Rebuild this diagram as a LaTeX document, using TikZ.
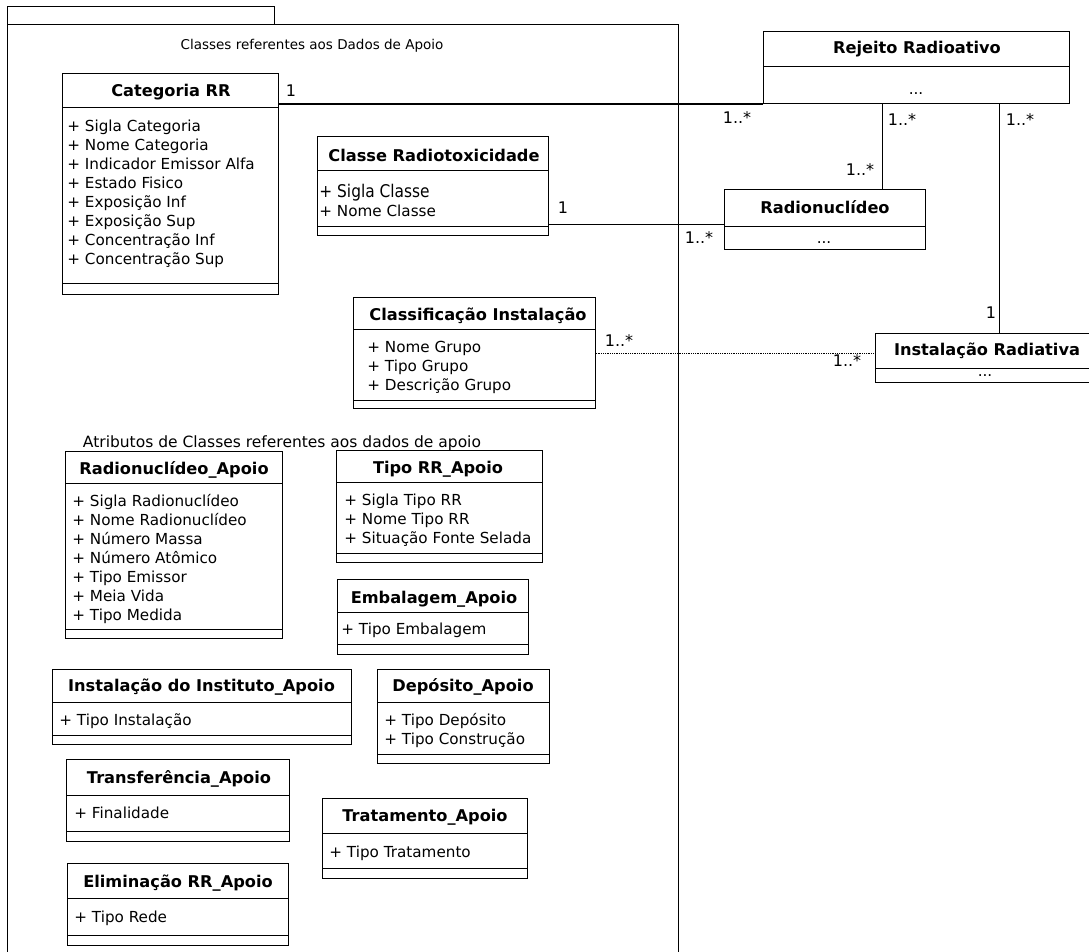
\documentclass[tikz,border=0pt]{standalone}
\usepackage{fontspec}
\setmainfont{DejaVu Sans}
\newfontfamily\condfont[FakeStretch=0.88]{DejaVu Sans}
\newcommand\attrfont{\fontsize{15.2}{19}\selectfont}
\newcommand\titlefont{\fontsize{16.2}{18}\selectfont\bfseries}
\newcommand\headfont{\fontsize{13.5}{16}\selectfont}
\newcommand\multfont{\fontsize{16}{18}\selectfont}

\begin{document}
\begin{tikzpicture}[x=1pt,y=-1pt,line width=.8pt]
\tikzstyle{cls}=[draw, inner sep=0pt, anchor=north west]
\tikzstyle{ctitle}=[font=\titlefont, inner sep=0pt, anchor=base]
\tikzstyle{attrs}=[font=\attrfont, align=left, anchor=north west, inner sep=0pt]
\tikzstyle{dots}=[font=\attrfont, inner sep=0pt]
\tikzstyle{mult}=[font=\multfont, inner sep=0pt]
\tikzstyle{assoc}=[line width=1.5pt]
\tikzstyle{assocdot}=[line width=.8pt, densely dotted]
\tikzstyle{frame}=[line width=.6pt]
\useasboundingbox (0,0) rectangle (1089,952);

% package
\draw[frame] (7,24) -- (7,6) -- (274,6) -- (274,24);
\draw[frame] (7,952) -- (7,24) -- (678,24) -- (678,952);
\node[font=\headfont, anchor=base] (head1) at (312,50) {Classes referentes aos Dados de Apoio};
\node[font=\fontsize{15.5}{18}\selectfont, anchor=base] (head2) at (282,447) {Atributos de Classes referentes aos dados de apoio};

% Categoria RR
\node[cls, minimum width=216, minimum height=221] (catrr) at (62,73) {};
\draw (catrr.north west) ++(0,34) -- ++(216,0);
\draw (catrr.south west) ++(0,-11) -- ++(216,0);
\node[ctitle] (catrr-t) at (171,97) {Categoria RR};
\node[attrs] (catrr-a) at (67,120) {+ Sigla Categoria\\+ Nome Categoria\\+ Indicador Emissor Alfa\\+ Estado Fisico\\+ Exposição Inf\\+ Exposição Sup\\+ Concentração Inf\\+ Concentração Sup};

% Classe Radiotoxicidade
\node[cls, minimum width=231, minimum height=99] (clrad) at (317,136) {};
\draw (clrad.north west) ++(0,34) -- ++(231,0);
\draw (clrad.south west) ++(0,-9) -- ++(231,0);
\node[ctitle] (clrad-t) at (434,161.5) {Classe Radiotoxicidade};
\node[attrs] (clrad-a) at (319,184) {{\condfont\fontsize{17.5}{19}\selectfont + Sigla Classe}\\+ Nome Classe};

% Classificacao Instalacao
\node[cls, minimum width=242, minimum height=111] (clinst) at (353,297) {};
\draw (clinst.north west) ++(0,32) -- ++(242,0);
\draw (clinst.south west) ++(0,-8) -- ++(242,0);
\node[ctitle] (clinst-t) at (478,320.5) {Classificação Instalação};
\node[attrs] (clinst-a) at (367,341) {+ Nome Grupo\\+ Tipo Grupo\\+ Descrição Grupo};

% Rejeito Radioativo
\node[cls, minimum width=306, minimum height=72] (rejeito) at (763,31) {};
\draw (rejeito.north west) ++(0,35) -- ++(306,0);
\node[ctitle] (rejeito-t) at (917,54) {Rejeito Radioativo};
\node[dots] (rejeito-d) at (916,94) {...};

% Radionuclideo
\node[cls, minimum width=201, minimum height=60] (radnuc) at (724,189) {};
\draw (radnuc.north west) ++(0,37) -- ++(201,0);
\node[ctitle] (radnuc-t) at (825,214) {Radionuclídeo};
\node[dots] (radnuc-d) at (824,243) {...};

% Instalacao Radiativa
\node[cls, minimum width=217, minimum height=49] (instrad) at (875,333) {};
\draw (instrad.north west) ++(0,35) -- ++(217,0);
\node[ctitle] (instrad-t) at (987,355) {Instalação Radiativa};
\node[dots] (instrad-d) at (985,376) {...};

% associations
\draw[assoc] (rejeito.south west) -- (rejeito.south west -| catrr.east);
\draw[assoc] ([yshift=-5pt]radnuc.west) -- ([yshift=-5pt]radnuc.west -| clrad.east);
\draw[assoc] ([xshift=57.5pt]radnuc.north) -- ([xshift=57.5pt]radnuc.north |- rejeito.south);
\draw[assoc] ([xshift=83pt]rejeito.south) -- ([xshift=83pt]rejeito.south |- instrad.north);
\draw[assocdot] (clinst.east) -- (clinst.east -| instrad.west);
\node[mult] (m1) at (291,91) {1};
\node[mult] (m2) at (737,118) {1..*};
\node[mult] (m3) at (563,208) {1};
\node[mult] (m4) at (699,238) {1..*};
\node[mult] (m5) at (902,120) {1..*};
\node[mult] (m6) at (860,170) {1..*};
\node[mult] (m7) at (1020,120) {1..*};
\node[mult] (m8) at (991,313) {1};
\node[mult] (m9) at (619,341) {1..*};
\node[mult] (m10) at (847,361) {1..*};

% Radionuclideo_Apoio
\node[cls, minimum width=217, minimum height=187] (radapoio) at (65,451) {};
\draw (radapoio.north west) ++(0,32) -- ++(217,0);
\draw (radapoio.south west) ++(0,-9) -- ++(217,0);
\node[ctitle] (radapoio-t) at (174,474) {Radionuclídeo\_Apoio};
\node[attrs] (radapoio-a) at (72,494) {+ Sigla Radionuclídeo\\+ Nome Radionuclídeo\\+ Número Massa\\+ Número Atômico\\+ Tipo Emissor\\+ Meia Vida\\+ Tipo Medida};

% Tipo RR_Apoio
\node[cls, minimum width=206, minimum height=112] (tiporr) at (336,450) {};
\draw (tiporr.north west) ++(0,32) -- ++(206,0);
\draw (tiporr.south west) ++(0,-9) -- ++(206,0);
\node[ctitle] (tiporr-t) at (438,473.5) {Tipo RR\_Apoio};
\node[attrs] (tiporr-a) at (344,494) {+ Sigla Tipo RR\\+ Nome Tipo RR\\+ Situação Fonte Selada};

% Embalagem_Apoio
\node[cls, minimum width=191, minimum height=75] (embal) at (337,579) {};
\draw (embal.north west) ++(0,33) -- ++(191,0);
\draw (embal.south west) ++(0,-10) -- ++(191,0);
\node[ctitle] (embal-t) at (434,603) {Embalagem\_Apoio};
\node[attrs] (embal-a) at (341,623) {+ Tipo Embalagem};

% Instalacao do Instituto_Apoio
\node[cls, minimum width=299, minimum height=75] (instinst) at (52,669) {};
\draw (instinst.north west) ++(0,33) -- ++(299,0);
\draw (instinst.south west) ++(0,-9) -- ++(299,0);
\node[ctitle] (instinst-t) at (201.5,691.5) {Instalação do Instituto\_Apoio};
\node[attrs] (instinst-a) at (59,713) {+ Tipo Instalação};

% Deposito_Apoio
\node[cls, minimum width=172, minimum height=94] (deposito) at (377,669) {};
\draw (deposito.north west) ++(0,33) -- ++(172,0);
\draw (deposito.south west) ++(0,-9) -- ++(172,0);
\node[ctitle] (deposito-t) at (463,691.5) {Depósito\_Apoio};
\node[attrs] (deposito-a) at (384,713) {+ Tipo Depósito\\+ Tipo Construção};

% Transferencia_Apoio
\node[cls, minimum width=223, minimum height=82] (transf) at (66,759) {};
\draw (transf.north west) ++(0,36) -- ++(223,0);
\draw (transf.south west) ++(0,-10) -- ++(223,0);
\node[ctitle] (transf-t) at (179,783) {Transferência\_Apoio};
\node[attrs] (transf-a) at (74,807) {+ Finalidade};

% Tratamento_Apoio
\node[cls, minimum width=205, minimum height=80] (tratam) at (322,798) {};
\draw (tratam.north west) ++(0,35) -- ++(205,0);
\draw (tratam.south west) ++(0,-10) -- ++(205,0);
\node[ctitle] (tratam-t) at (425,821.5) {Tratamento\_Apoio};
\node[attrs] (tratam-a) at (329,846) {+ Tipo Tratamento};

% Eliminacao RR_Apoio
\node[cls, minimum width=221, minimum height=82] (elimin) at (67,863) {};
\draw (elimin.north west) ++(0,35) -- ++(221,0);
\draw (elimin.south west) ++(0,-10) -- ++(221,0);
\node[ctitle] (elimin-t) at (178,887) {Eliminação RR\_Apoio};
\node[attrs] (elimin-a) at (74,911) {+ Tipo Rede};
\end{tikzpicture}
\end{document}
